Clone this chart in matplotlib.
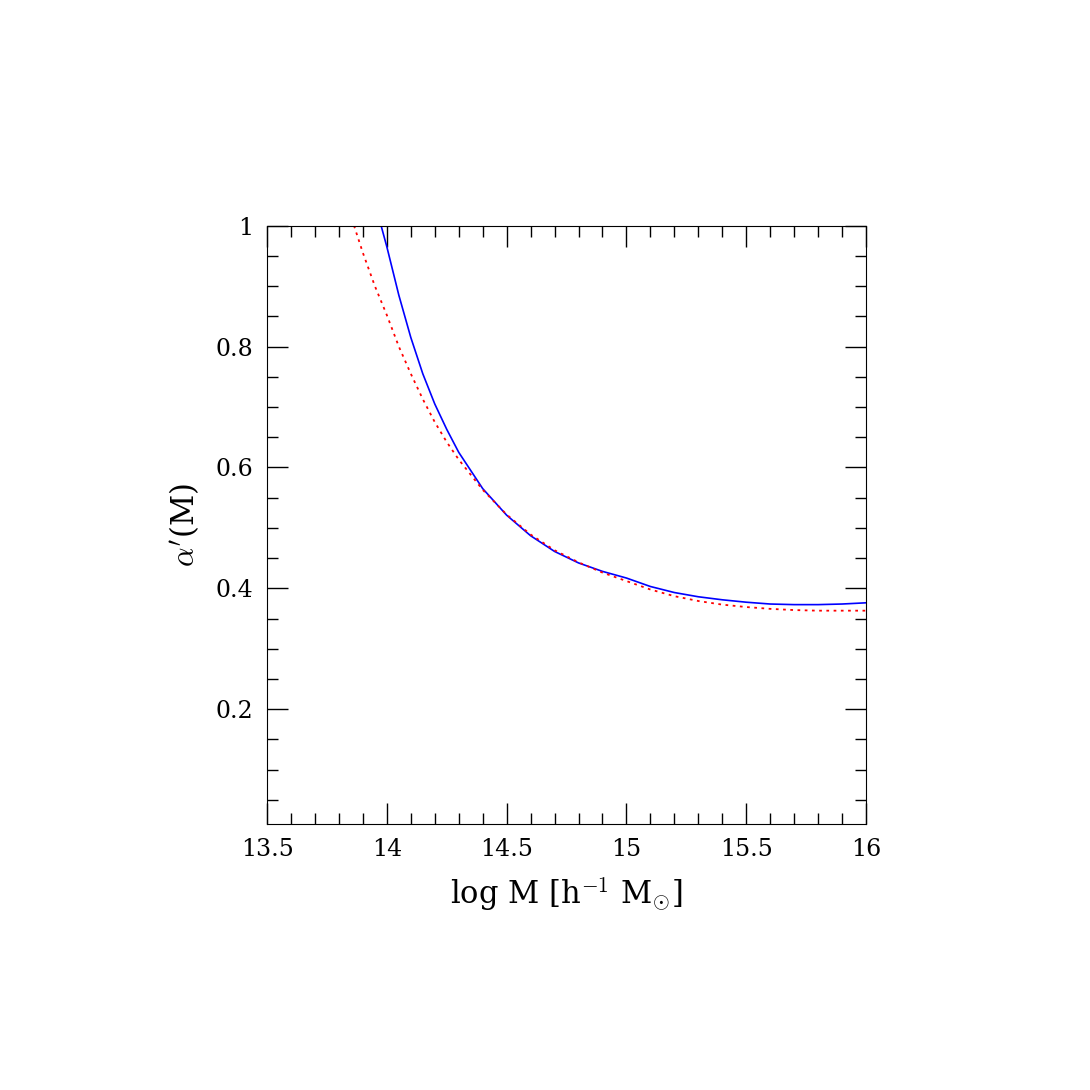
import numpy as np
import matplotlib.pyplot as plt
from matplotlib.ticker import MultipleLocator

plt.rcParams['font.family'] = 'DejaVu Serif'
plt.rcParams['mathtext.fontset'] = 'cm'

# values
logm_blue = [13.976, 14.0, 14.05, 14.1, 14.15, 14.2, 14.25, 14.3, 14.4, 14.5, 14.6, 14.7,
             14.8, 14.9, 15.0, 15.1, 15.2, 15.3, 15.4, 15.5, 15.6, 15.7, 15.8, 15.9, 16.0]
alpha_blue = [1.0, 0.965, 0.885, 0.815, 0.755, 0.705, 0.663, 0.625, 0.565, 0.521, 0.487, 0.461,
              0.442, 0.428, 0.417, 0.403, 0.393, 0.386, 0.381, 0.377, 0.374, 0.373, 0.373, 0.374, 0.376]

logm_red = [13.863, 13.9, 13.95, 14.0, 14.05, 14.1, 14.15, 14.2, 14.25, 14.3, 14.4, 14.5, 14.6,
            14.7, 14.8, 14.9, 15.0, 15.1, 15.2, 15.3, 15.4, 15.5, 15.6, 15.7, 15.8, 15.9, 16.0]
alpha_red = [1.0, 0.955, 0.9, 0.852, 0.8, 0.755, 0.713, 0.675, 0.642, 0.613, 0.563, 0.522, 0.489,
             0.463, 0.443, 0.426, 0.412, 0.398, 0.387, 0.379, 0.373, 0.369, 0.366, 0.364, 0.363, 0.363, 0.363]

fig = plt.figure(figsize=(10.9, 10.9), dpi=100)
ax = fig.add_axes([0.245, 0.244, 0.5495, 0.549])

ax.plot(logm_blue, alpha_blue, color='blue', lw=1.2)
ax.plot(logm_red, alpha_red, color='red', lw=1.3, linestyle=(0, (1.5, 2.5)))

ax.set_xlim(13.5, 16)
ax.set_ylim(0.01, 1)
ax.xaxis.set_major_locator(MultipleLocator(0.5))
ax.xaxis.set_minor_locator(MultipleLocator(0.1))
ax.yaxis.set_major_locator(MultipleLocator(0.2))
ax.yaxis.set_minor_locator(MultipleLocator(0.05))
ax.set_xticks([13.5, 14, 14.5, 15, 15.5, 16])
ax.set_xticklabels(['13.5', '14', '14.5', '15', '15.5', '16'])
ax.set_yticks([0.2, 0.4, 0.6, 0.8, 1.0])
ax.set_yticklabels(['0.2', '0.4', '0.6', '0.8', '1'])
ax.tick_params(which='both', direction='in', top=True, right=True, labelsize=17, pad=10)
ax.tick_params(which='major', length=15, width=1)
ax.tick_params(which='minor', length=8, width=1)

ax.set_xlabel(r'log M [h$^{-1}$ M$_{\odot}$]', fontsize=22, labelpad=10)
ax.set_ylabel(r"$\alpha'$(M)", fontsize=22, labelpad=10)

fig.savefig('out.png', dpi=100)
